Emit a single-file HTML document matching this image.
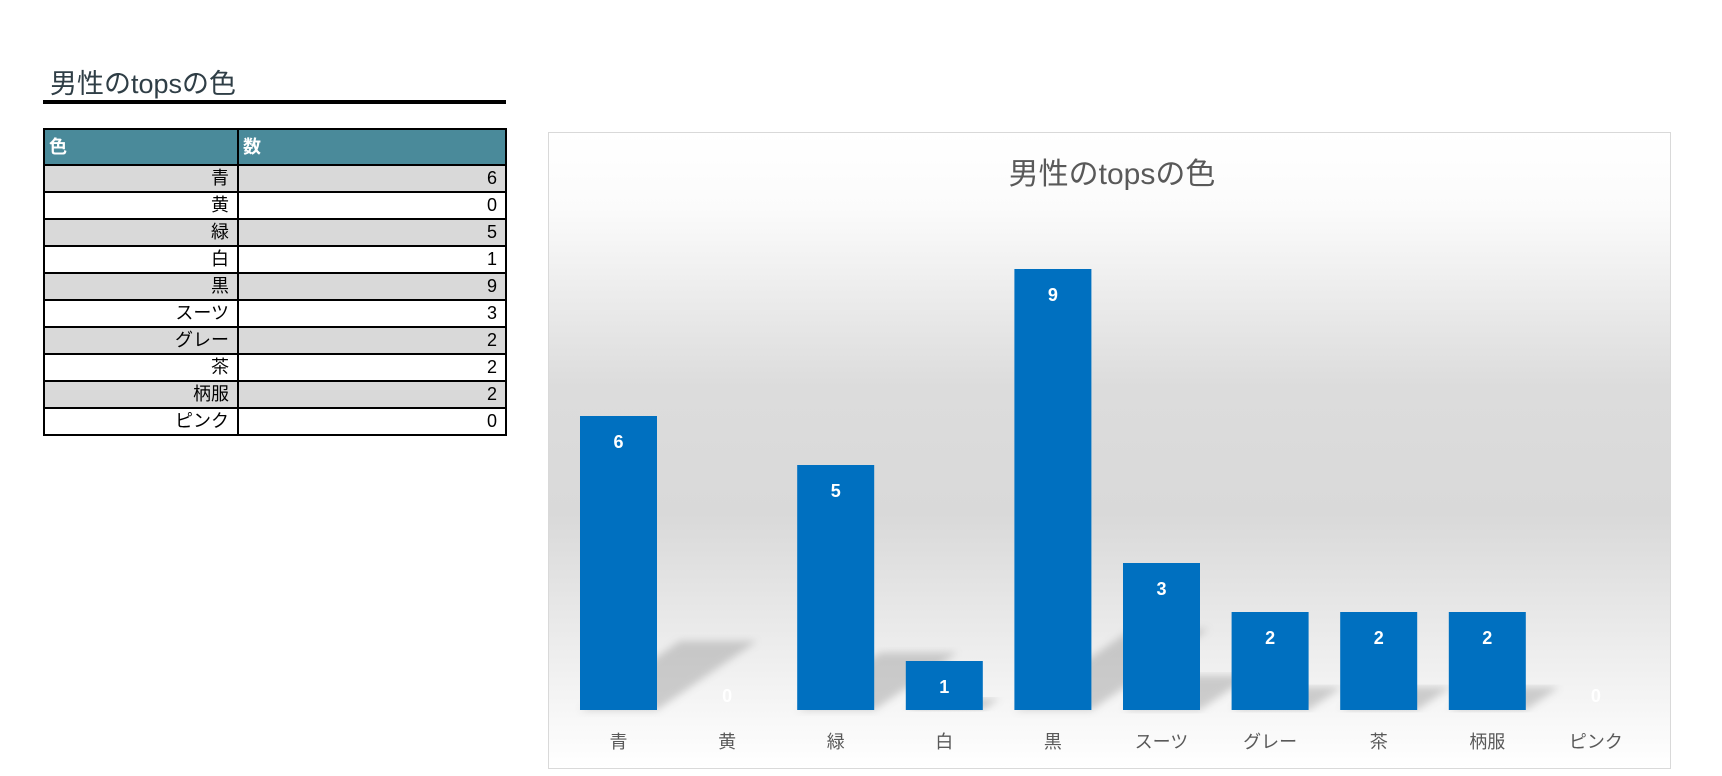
<!DOCTYPE html>
<html><head><meta charset="utf-8">
<style>
body{margin:0;width:1722px;height:776px;background:#fff;font-family:"Liberation Sans","Noto Sans CJK JP",sans-serif;position:relative;overflow:hidden}
#title{position:absolute;left:50px;top:62px;font-size:27px;color:#2f3e46}
#uline{position:absolute;left:43px;top:100px;width:463px;height:4px;background:#000}
table{position:absolute;left:43px;top:128px;border-collapse:collapse;width:464px;font-size:18px}
td,th{border:2px solid #000;padding:0 8px 0 4px;height:25px;line-height:25px}
th{background:#4a8a9a;color:#fff;text-align:left;height:34px;font-weight:bold}
td{text-align:right}
tr.g td{background:#d9d9d9}
#chart{position:absolute;left:548px;top:132px}
</style></head><body>
<div id="title">男性のtopsの色</div>
<div id="uline"></div>
<table>
<tr><th style="width:180px">色</th><th>数</th></tr>
<tr class="g"><td>青</td><td>6</td></tr>
<tr><td>黄</td><td>0</td></tr>
<tr class="g"><td>緑</td><td>5</td></tr>
<tr><td>白</td><td>1</td></tr>
<tr class="g"><td>黒</td><td>9</td></tr>
<tr><td>スーツ</td><td>3</td></tr>
<tr class="g"><td>グレー</td><td>2</td></tr>
<tr><td>茶</td><td>2</td></tr>
<tr class="g"><td>柄服</td><td>2</td></tr>
<tr><td>ピンク</td><td>0</td></tr>
</table>
<svg id="chart" width="1124" height="640">
<defs>
<linearGradient id="bg" x1="0" y1="0" x2="0" y2="1">
<stop offset="0" stop-color="#ffffff"/><stop offset="0.12" stop-color="#fbfbfb"/><stop offset="0.4" stop-color="#dcdcdc"/><stop offset="0.6" stop-color="#d9d9d9"/><stop offset="1" stop-color="#ffffff"/>
</linearGradient>
<filter id="blur"><feGaussianBlur stdDeviation="4"/></filter>
</defs>
<rect x="0.5" y="0.5" width="1122" height="636" fill="url(#bg)" stroke="#d9d9d9"/>
<text x="564" y="52" text-anchor="middle" font-size="30" fill="#595959">男性のtopsの色</text>
<g id="shadows"></g><g id="bars"></g><g id="labels"></g>
</svg>
<script>
const categories=["青","黄","緑","白","黒","スーツ","グレー","茶","柄服","ピンク"];
const values=[6,0,5,1,9,3,2,2,2,0];
const NS="http://www.w3.org/2000/svg";
const base=578, unit=49, step=108.6, x0=32, bw=77;
const yv=v=>base-v*unit;
const xc=i=>x0+i*step;
const sh=document.getElementById('shadows'),bars=document.getElementById('bars'),lab=document.getElementById('labels');
categories.forEach((c,i)=>{
  const v=values[i],x=xc(i);
  const h=Math.min(v,6)*11.5+ (v>6?(v-6)*4:0), dx=h*1.45;
  if(h>0){
    const p=document.createElementNS(NS,'polygon');
    
    
    p.setAttribute('points',`${x},${base} ${x+bw},${base} ${x+bw+dx},${base-h} ${x+dx},${base-h}`);
    p.setAttribute('fill','#9a9a9a');p.setAttribute('opacity','0.45');p.setAttribute('filter','url(#blur)');
    sh.appendChild(p);
  }
  const r=document.createElementNS(NS,'rect');
  
  
  r.setAttribute('x',x);r.setAttribute('y',yv(v));r.setAttribute('width',bw);r.setAttribute('height',v*unit);
  r.setAttribute('fill','#0070c0');
  bars.appendChild(r);
  const t=document.createElementNS(NS,'text');
  
  
  t.setAttribute('x',x+bw/2);t.setAttribute('y',v>0?yv(v)+32:base-8);
  t.setAttribute('text-anchor','middle');t.setAttribute('font-size','18');t.setAttribute('font-weight','bold');
  t.setAttribute('fill','#fff');
  t.textContent=v;
  lab.appendChild(t);
  const a=document.createElementNS(NS,'text');
  
  
  a.setAttribute('x',x+bw/2);a.setAttribute('y',616);
  a.setAttribute('text-anchor','middle');a.setAttribute('font-size','18');a.setAttribute('fill','#595959');
  a.textContent=c;
  lab.appendChild(a);
});
</script>
</body></html>
